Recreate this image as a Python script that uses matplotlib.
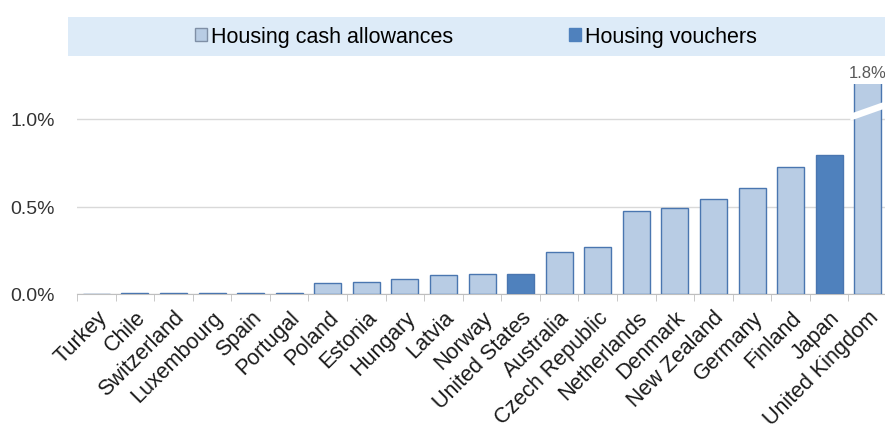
import matplotlib.pyplot as plt
from matplotlib.patches import Patch, Polygon, Rectangle
import numpy as np

plt.rcParams['font.family'] = ['Liberation Sans', 'DejaVu Sans']

countries = ["Turkey", "Chile", "Switzerland", "Luxembourg", "Spain", "Portugal",
             "Poland", "Estonia", "Hungary", "Latvia", "Norway", "United States",
             "Australia", "Czech Republic", "Netherlands", "Denmark", "New Zealand",
             "Germany", "Finland", "Japan", "United Kingdom"]
values = [0.0, 0.005, 0.005, 0.005, 0.005, 0.005,
          0.062, 0.068, 0.085, 0.11, 0.115, 0.115,
          0.24, 0.267, 0.476, 0.491, 0.543,
          0.606, 0.726, 0.796, 1.8]
vouchers = ["United States", "Japan"]

light = "#B8CCE4"
dark = "#4F81BD"
edge = "#4A76B0"

fig = plt.figure(figsize=(8.85, 4.35), dpi=100)
ax = fig.add_axes([77 / 885, 1 - 295 / 435, 810 / 885, 210 / 435])

x = np.arange(len(countries))
colors = [dark if c in vouchers else light for c in countries]
ax.bar(x, values, width=0.7, color=colors, edgecolor=edge, linewidth=1.0, zorder=3)

ymax = 1.2
ax.set_ylim(0, ymax)
ax.set_xlim(-0.5, len(countries) - 0.5)

# axis break on the UK bar
uk = len(countries) - 1
ax.add_patch(Polygon([[uk - 0.45, 0.99], [uk + 0.45, 1.06], [uk + 0.45, 1.10], [uk - 0.45, 1.03]],
                     closed=True, facecolor="white", edgecolor="none", zorder=4))
ax.text(uk, ymax + 0.02, "%.1f%%" % values[uk], ha="center", va="bottom",
        fontsize=12, color="#595959", clip_on=False)

ax.set_yticks([0, 0.5, 1.0])
ax.set_yticklabels(["0.0%", "0.5%", "1.0%"], fontsize=14, color="#333333")
ax.yaxis.grid(True, color="#D9D9D9", linewidth=1, zorder=0)
ax.tick_params(axis="y", length=0, pad=16)

ax.set_xticks(x)
ax.set_xticklabels(countries, rotation=45, ha="right", rotation_mode="anchor",
                   fontsize=15.5, color="#1a1a1a")
ax.set_xticks(np.arange(-0.5, len(countries), 1), minor=True)
ax.tick_params(axis="x", which="major", length=0, pad=9)
ax.tick_params(axis="x", which="minor", length=5, color="#BFBFBF")

for s in ["top", "right", "left"]:
    ax.spines[s].set_visible(False)
ax.spines["bottom"].set_color("#BFBFBF")

# legend band
fig.patches.append(Rectangle((68 / 885, 1 - 57 / 435), 817 / 885, 39 / 435,
                             transform=fig.transFigure, facecolor="#DDEBF8",
                             edgecolor="none", zorder=0))
handles = [Patch(facecolor=light, edgecolor="#7F8FA6", label="Housing cash allowances"),
           Patch(facecolor=dark, edgecolor=dark, label="Housing vouchers")]
fig.legend(handles=handles, loc="center", bbox_to_anchor=(476 / 885, 1 - 37.5 / 435),
           ncol=2, frameon=False, fontsize=15.5, handlelength=0.55, handleheight=0.55,
           handletextpad=0.2, columnspacing=5.4)

fig.savefig("out.png", dpi=100)
